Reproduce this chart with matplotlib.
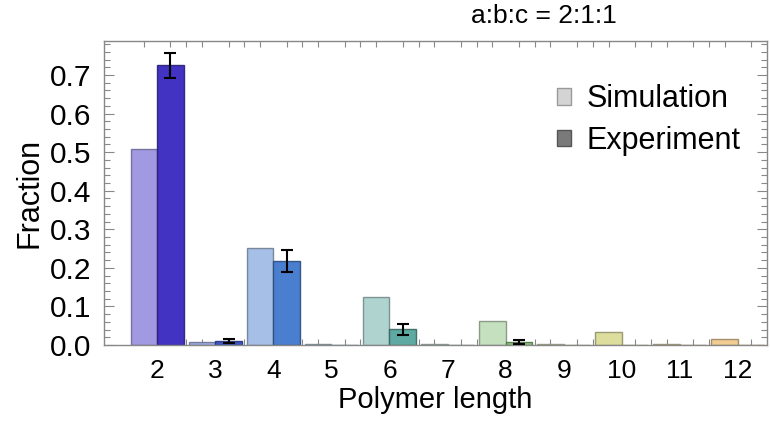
import numpy as np
import matplotlib
matplotlib.use("Agg")
import matplotlib.pyplot as plt
from matplotlib.patches import Patch
from matplotlib.colors import to_rgb

plt.rcParams['font.family'] = ['Liberation Sans', 'DejaVu Sans']

# Polymer length categories
lengths = [2, 3, 4, 5, 6, 7, 8, 9, 10, 11, 12]
# Fractions from simulation
sim_frac = [0.508, 0.007, 0.251, 0.003, 0.124, 0.002, 0.062, 0.002, 0.033, 0.002, 0.015]
# Fractions from experiment with uncertainties
exp_frac = [0.725, 0.010, 0.218, 0.0, 0.041, 0.0, 0.007, 0.0, 0.0, 0.0, 0.0]
exp_err = [0.032, 0.006, 0.029, 0.0, 0.014, 0.0, 0.005, 0.0, 0.0, 0.0, 0.0]
# One colour per polymer length
bar_colors = ['#4233c2', '#3c57c7', '#4a7ecf', '#5295b9', '#5ea9a1', '#75b58e',
              '#8bc17c', '#a8c86c', '#bbbb3a', '#d2a93a', '#e29828']

title = "a:b:c = 2:1:1"


def lighten(c, f=0.5):
    r, g, b = to_rgb(c)
    return (1 - f + f * r, 1 - f + f * g, 1 - f + f * b)


def darken(c, f=0.65):
    r, g, b = to_rgb(c)
    return (r * f, g * f, b * f)


fig = plt.figure(figsize=(7.70, 4.34), dpi=100)
ax = fig.add_axes([0.135, 0.205, 0.861, 0.7005])

x = np.array(lengths, dtype=float)
w = 0.456
sim_cols = [lighten(c) for c in bar_colors]
sim_edges = [darken(lighten(c), 0.6) + (0.8,) for c in bar_colors]
exp_edges = [darken(c, 0.6) + (0.9,) for c in bar_colors]

ax.bar(x - w / 2, sim_frac, width=w, color=sim_cols, edgecolor=sim_edges, linewidth=1.0, zorder=2)
ax.bar(x + w / 2, exp_frac, width=w, color=bar_colors, edgecolor=exp_edges, linewidth=1.0, zorder=2)

mask = np.array(exp_err) > 0
ax.errorbar((x + w / 2)[mask], np.array(exp_frac)[mask], yerr=np.array(exp_err)[mask],
            fmt='none', ecolor='black', elinewidth=1.5, capsize=4.6, capthick=1.5, zorder=3)

ax.set_xlim(1.083, 12.5)
ax.set_ylim(0, 0.788)

# x ticks: labels at group centres, marks at bar centres and group separators
ax.set_xticks(x)
ax.set_xticklabels([str(v) for v in lengths], fontsize=19)
ax.tick_params(axis='x', which='major', length=0, pad=10)
minor_x = np.concatenate([x - w / 2, x + w / 2, (x + 0.5)[:-1]])
ax.set_xticks(minor_x, minor=True)
ax.tick_params(axis='x', which='minor', direction='in', length=4, top=True, bottom=True,
               color='#888888', width=0.8)

ax.set_yticks(np.arange(0, 0.71, 0.1))
ax.set_yticklabels([f"{v:.1f}" for v in np.arange(0, 0.71, 0.1)], fontsize=21.5)
ax.set_yticks(np.arange(0, 0.781, 0.02), minor=True)
ax.tick_params(axis='y', which='major', direction='in', length=7, left=True, right=True,
               color='#888888', width=0.8, pad=9)
ax.tick_params(axis='y', which='minor', direction='in', length=4, left=True, right=True,
               color='#888888', width=0.8)

for s in ax.spines.values():
    s.set_color('#888888')
    s.set_linewidth(1.0)

ax.set_xlabel("Polymer length", fontsize=21, labelpad=2)
ax.set_ylabel("Fraction", fontsize=22, labelpad=4)

fig.text(544 / 770, 1 - 16 / 434, title, ha='center', va='center', fontsize=19)

handles = [Patch(facecolor='#d4d4d4', edgecolor='#999999', label='Simulation'),
           Patch(facecolor='#7a7a7a', edgecolor='#555555', label='Experiment')]
ax.legend(handles=handles, loc='upper left', bbox_to_anchor=(545 / 770, 1 - 72 / 434),
          bbox_transform=fig.transFigure, frameon=False, fontsize=22,
          handlelength=0.45, handleheight=0.45, handletextpad=0.5, labelspacing=0.38,
          borderaxespad=0)

fig.savefig("out.png", dpi=100)
